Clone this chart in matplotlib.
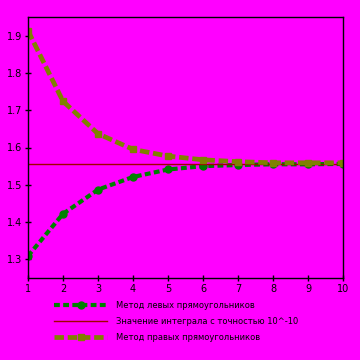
import matplotlib
matplotlib.use("Agg")
import matplotlib.pyplot as plt

# number of partitions and the two approximations
n = [1, 2, 3, 4, 5, 6, 7, 8, 9, 10]
left_rect = [1.309, 1.422, 1.487, 1.521, 1.541, 1.550, 1.553, 1.555, 1.555, 1.556]
right_rect = [1.913, 1.724, 1.637, 1.595, 1.577, 1.567, 1.562, 1.559, 1.559, 1.559]
exact = 1.557

labels = ["Метод левых прямоугольников",
          "Значение интеграла с точностью 10^-10",
          "Метод правых прямоугольников"]

bg = "#ff00ff"
fig = plt.figure(figsize=(3.6, 3.6), dpi=100, facecolor=bg)
ax = fig.add_axes([28 / 360, 1 - 278 / 360, 315 / 360, 261 / 360], facecolor=bg)

l1, = ax.plot(n, left_rect, color="#008000", lw=3, ls=(0, (1.4, 0.8)),
              marker="o", ms=5, mec="#008000", label=labels[0])
l2 = ax.axhline(exact, color="#a00000", lw=1, label=labels[1])
l3, = ax.plot(n, right_rect, color="#808000", lw=3.4, ls=(0, (2.0, 0.8)),
              marker="s", ms=5, mec="#808000", label=labels[2])

ax.set_xlim(1, 10)
ax.set_ylim(1.25, 1.95)
ax.set_xticks(range(1, 11))
ax.set_yticks([1.3, 1.4, 1.5, 1.6, 1.7, 1.8, 1.9])
ax.tick_params(direction="inout", length=4, width=1, labelsize=7, pad=2)
for s in ax.spines.values():
    s.set_linewidth(1)

fig.legend(handles=[l1, l2, l3], labels=labels, loc="upper left",
           bbox_to_anchor=(54 / 360, 1 - 301 / 360), frameon=False,
           fontsize=6, handlelength=6.4, handletextpad=1.0,
           labelspacing=0.85, borderpad=0, borderaxespad=0)

fig.savefig("out.png", dpi=100, facecolor=bg)
